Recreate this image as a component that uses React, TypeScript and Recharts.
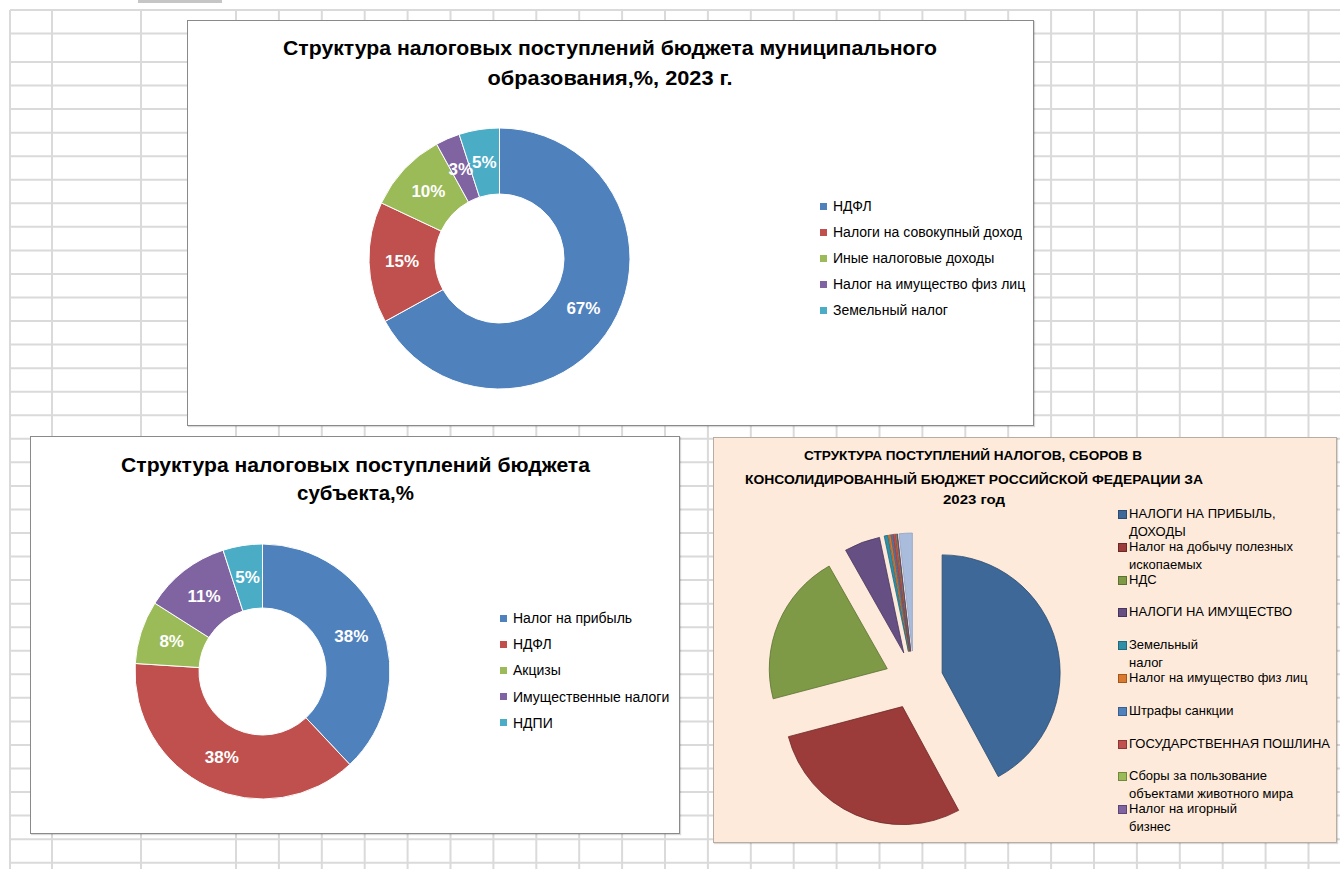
import React from 'react';
import { PieChart, Pie, Cell, Legend } from 'recharts';

// ---------- DATA ----------
const muniNames = ['НДФЛ', 'Налоги на совокупный доход', 'Иные налоговые доходы', 'Налог на имущество физ лиц', 'Земельный налог'];
const muniValues = [67, 15, 10, 3, 5];

const subjNames = ['Налог на прибыль', 'НДФЛ', 'Акцизы', 'Имущественные налоги', 'НДПИ'];
const subjValues = [38, 38, 8, 11, 5];

const rfNames = [
  'НАЛОГИ НА ПРИБЫЛЬ,\nДОХОДЫ',
  'Налог на добычу полезных\nископаемых',
  'НДС',
  'НАЛОГИ НА ИМУЩЕСТВО',
  'Земельный\nналог',
  'Налог на имущество физ лиц',
  'Штрафы санкции',
  'ГОСУДАРСТВЕННАЯ ПОШЛИНА',
  'Сборы за пользование\nобъектами животного мира',
  'Налог на игорный\nбизнес',
  'Прочие',
];
const rfValues = [42.1, 28.8, 20.9, 4.9, 0.5, 0.3, 0.2, 0.35, 0.1, 0.05, 1.8];
const rfLegendCount = 10;

const title1 = ['Структура налоговых поступлений бюджета муниципального', 'образования,%, 2023 г.'];
const title2 = ['Структура налоговых поступлений бюджета', 'субъекта,%'];
const title3 = ['СТРУКТУРА ПОСТУПЛЕНИЙ  НАЛОГОВ, СБОРОВ В', 'КОНСОЛИДИРОВАННЫЙ БЮДЖЕТ РОССИЙСКОЙ ФЕДЕРАЦИИ ЗА', '2023 год'];

// ---------- STYLE ----------
const donutColors = ['#4F81BD', '#C0504D', '#9BBB59', '#8064A2', '#4BACC6'];
const rfColors = ['#3E6897', '#9B3C3B', '#7E9A47', '#654F83', '#2E8FA7', '#D97A2E', '#4F81BD', '#C0504D', '#9BBB59', '#8064A2', '#AABCDB'];
const rfStrokes = ['#2B4C72', '#6F2726', '#5A7130', '#46365E', '#1F6A7D', '#A5561B', '#385F8E', '#8E3634', '#70893E', '#5B4675', '#8EA3C6'];
const FONT = '"Liberation Sans", Arial, sans-serif';
const ZERO_MARGIN = { top: 0, right: 0, bottom: 0, left: 0 };

const RADIAN = Math.PI / 180;
const ringLabel = (props: any) => {
  const { cx, cy, midAngle, innerRadius, outerRadius, value } = props;
  const r = (innerRadius + outerRadius) / 2;
  const x = cx + r * Math.cos(-midAngle * RADIAN);
  const y = cy + r * Math.sin(-midAngle * RADIAN);
  return (
    <text x={x} y={y} fill="#fff" textAnchor="middle" dominantBaseline="central"
      fontFamily={FONT} fontWeight="bold" fontSize={17}>{`${value}%`}</text>
  );
};

const SimpleLegend = ({ names, colors, rowH, fontSize }: any) => (
  <div style={{ fontFamily: FONT, fontSize, color: '#000' }}>
    {names.map((n: string, i: number) => (
      <div key={n} style={{ height: rowH, lineHeight: rowH + 'px', display: 'flex', alignItems: 'center', whiteSpace: 'nowrap' }}>
        <span style={{ width: 7, height: 7, background: colors[i], marginRight: 6, flex: 'none' }} />
        <span>{n}</span>
      </div>
    ))}
  </div>
);

const RfLegend = () => (
  <div style={{ fontFamily: FONT, fontSize: 13, color: '#000' }}>
    {rfNames.slice(0, rfLegendCount).map((n, i) => (
      <div key={n} style={{ height: 32.8, position: 'relative' }}>
        <span style={{ position: 'absolute', left: 0, top: 5, width: 7, height: 7, background: rfColors[i], border: `1px solid ${rfStrokes[i]}` }} />
        <span style={{ position: 'absolute', left: 11, top: 0, lineHeight: '18px', whiteSpace: 'pre' }}>{n}</span>
      </div>
    ))}
  </div>
);

const Title = ({ lines, cx, baselines, widths, size }: any) => (
  <svg style={{ position: 'absolute', left: 0, top: 0, pointerEvents: 'none' }} width="100%" height="120">
    {lines.map((l: string, i: number) => (
      <text key={i} x={cx[i]} y={baselines[i]} textAnchor="middle" fontFamily={FONT} fontWeight="bold"
        fontSize={size} textLength={widths[i]} lengthAdjust="spacingAndGlyphs" fill="#000">{l}</text>
    ))}
  </svg>
);

// ---------- GRID ----------
const gridCols: number[] = [10, 52, 141];
for (let x = 236; x < 1340; x += 42.9) gridCols.push(x);
const gridRows: number[] = [10, 33.5];
for (let y = 62; y < 869; y += 23.55) gridRows.push(y);

const SheetGrid = () => (
  <svg width={1340} height={869} style={{ position: 'absolute', left: 0, top: 0 }}>
    <rect x={138} y={0} width={84} height={3} fill="#c6c6c6" />
    {gridCols.map((x, i) => <line key={'c' + i} x1={x} x2={x} y1={10} y2={869} stroke="#dadada" strokeWidth={2} />)}
    {gridRows.map((y, i) => <line key={'r' + i} x1={10} x2={1340} y1={y} y2={y} stroke="#dadada" strokeWidth={2} />)}
  </svg>
);

// ---------- CHARTS ----------
const muniData = muniNames.map((n, i) => ({ name: n, value: muniValues[i] }));
const subjData = subjNames.map((n, i) => ({ name: n, value: subjValues[i] }));
const rfData = rfNames.map((n, i) => ({ name: n, value: rfValues[i] }));

const rfTotal = rfValues.reduce((a, b) => a + b, 0);
const rfMid: number[] = [];
{
  let acc = 0;
  rfValues.forEach((v) => { rfMid.push(((acc + v / 2) / rfTotal) * 360); acc += v; });
}
const RF_CX = 200;
const RF_CY = 242;
const EXPLODE = 29;

const boxBase: React.CSSProperties = { position: 'absolute', border: '1px solid #8a8a8a', background: '#fff', boxShadow: '1px 1px 1px rgba(0,0,0,0.15)' };

export default function App() {
  return (
    <div style={{ position: 'absolute', left: 0, top: 0, width: 1340, height: 869, background: '#fff', overflow: 'hidden' }}>
      <SheetGrid />

      {/* Chart 1 */}
      <div style={{ ...boxBase, left: 187, top: 20, width: 845, height: 404 }}>
        <PieChart width={845} height={404} margin={ZERO_MARGIN}>
          <Pie data={muniData} dataKey="value" nameKey="name" cx={311.5} cy={237.5} innerRadius={64.5} outerRadius={130.5}
            startAngle={90} endAngle={-270} isAnimationActive={false} label={ringLabel} labelLine={false} stroke="#fff" strokeWidth={1}>
            {muniData.map((d, i) => <Cell key={d.name} fill={donutColors[i]} />)}
          </Pie>
          <Legend content={() => <SimpleLegend names={muniNames} colors={donutColors} rowH={26} fontSize={14} />}
            wrapperStyle={{ left: 632, top: 172, width: 210, bottom: 'auto' }} />
        </PieChart>
        <Title lines={title1} cx={[422, 422]} baselines={[34, 64]} widths={[654, 245]} size={20.5} />
      </div>

      {/* Chart 2 */}
      <div style={{ ...boxBase, left: 30, top: 436, width: 648, height: 396 }}>
        <PieChart width={648} height={396} margin={ZERO_MARGIN}>
          <Pie data={subjData} dataKey="value" nameKey="name" cx={231.5} cy={234.5} innerRadius={63.5} outerRadius={127.5}
            startAngle={90} endAngle={-270} isAnimationActive={false} label={ringLabel} labelLine={false} stroke="#fff" strokeWidth={1}>
            {subjData.map((d, i) => <Cell key={d.name} fill={donutColors[i]} />)}
          </Pie>
          <Legend content={() => <SimpleLegend names={subjNames} colors={donutColors} rowH={26.2} fontSize={14} />}
            wrapperStyle={{ left: 469, top: 168, width: 175, bottom: 'auto' }} />
        </PieChart>
        <Title lines={title2} cx={[324.5, 324.5]} baselines={[35, 63]} widths={[469, 117]} size={20.5} />
      </div>

      {/* Chart 3 */}
      <div style={{ ...boxBase, left: 713, top: 437, width: 622, height: 404, background: '#FDEADA', border: '1px solid #b9ada3' }}>
        <PieChart width={622} height={404} margin={ZERO_MARGIN}>
          {rfValues.map((_, k) => (
            <Pie key={k} data={rfData} dataKey="value" nameKey="name"
              cx={RF_CX + EXPLODE * Math.sin(rfMid[k] * RADIAN)} cy={RF_CY - EXPLODE * Math.cos(rfMid[k] * RADIAN)}
              innerRadius={0} outerRadius={118} startAngle={90} endAngle={-270} isAnimationActive={false} legendType="none">
              {rfData.map((d, i) => (
                <Cell key={d.name} fill={i === k ? rfColors[i] : 'none'} stroke={i === k ? rfStrokes[i] : 'none'} strokeWidth={0.8} />
              ))}
            </Pie>
          ))}
          <Legend content={() => <RfLegend />} wrapperStyle={{ left: 404, top: 67, width: 215, bottom: 'auto' }} />
        </PieChart>
        <Title lines={title3} cx={[259, 260, 260]} baselines={[22, 46, 66]} widths={[338, 458, 62]} size={12.5} />
      </div>
    </div>
  );
}
